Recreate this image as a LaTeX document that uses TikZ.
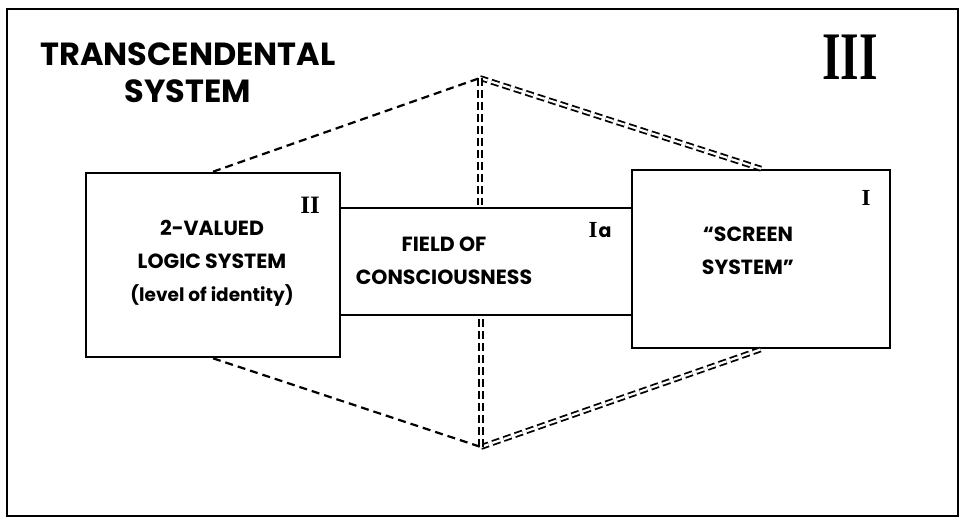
\documentclass[tikz,border=0pt]{standalone}
\usepackage{fontspec}
\setmainfont{Poppins}
\newfontfamily\romanfont{Liberation Serif}

\begin{document}
\begin{tikzpicture}[x=1pt,y=-1pt,
        box/.style={draw, line width=2.6pt, inner sep=0pt},
        boxtext/.style={font=\bfseries\fontsize{20.5}{33}\selectfont, align=center},
        numeral/.style={font=\romanfont\bfseries\fontsize{25}{25}\selectfont, inner sep=0pt},
        dashline/.style={line width=2.2pt, dash pattern=on 8pt off 5pt},
        doubledash/.style={line width=1.8pt, dash pattern=on 8pt off 4pt, double, double distance=2.2pt},
    ]
    \useasboundingbox (0,0) rectangle (963,519);
    \draw[line width=2.4pt] (7,9) rectangle (958,516);
    % title and big numeral
    \node[font=\bfseries\fontsize{32}{37}\selectfont, align=center] (title) at (188,73) {TRANSCENDENTAL\\SYSTEM};
    \node[numeral, font=\romanfont\bfseries\fontsize{68}{68}\selectfont, xscale=0.7, transform shape] (three) at (850,57) {III};
    % the three systems
    \node[box, minimum width=254pt, minimum height=184pt] (logic) at (213,265) {};
    \node[box, minimum width=258pt, minimum height=178pt] (screen) at (761,259) {};
    \node[box, minimum width=292pt, minimum height=107pt] (field) at (486,261.5) {};
    \node[boxtext] (logictext) at (212,263) {2-VALUED\\LOGIC SYSTEM\\{\fontsize{18.5}{20}\selectfont(level of identity)}};
    \node[boxtext] (fieldtext) at (444,261) {FIELD OF\\CONSCIOUSNESS};
    \node[boxtext] (screentext) at (748,251) {“SCREEN\\SYSTEM”};
    \node[numeral] (two) at (310,205) {II};
    \node[numeral, font=\romanfont\bfseries\fontsize{23}{23}\selectfont] (one) at (866,198) {I};
    \node[numeral, font=\romanfont\bfseries\fontsize{23}{23}\selectfont] (onea) at (600,230) {I\kern1pt{\rmfamily\bfseries\fontsize{19}{19}\selectfont a}};
    % apexes of the transcendental frame
    \coordinate (top) at (480,78);
    \coordinate (bottom) at (481,447);
    \draw[dashline] (logic.north) -- (top);
    \draw[dashline] (logic.south) -- (bottom);
    \draw[doubledash] (top) -- (screen.north);
    \draw[doubledash] (bottom) -- (screen.south);
    \draw[doubledash, shorten >=1.3pt] (top) -- (top |- field.north);
    \draw[doubledash, shorten >=1.3pt] (bottom) -- (bottom |- field.south);
\end{tikzpicture}
\end{document}
